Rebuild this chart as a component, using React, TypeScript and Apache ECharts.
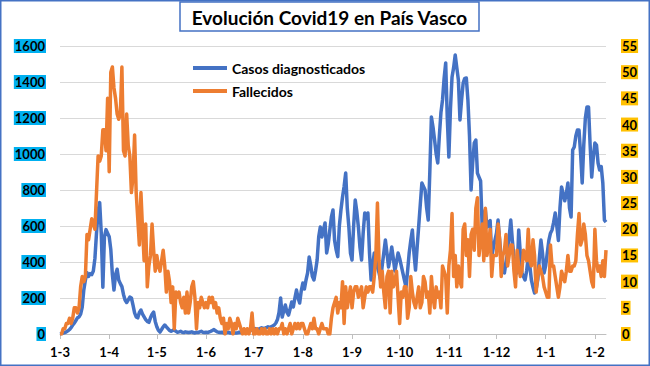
import React, { useEffect, useRef } from "react";
import * as echarts from "echarts";

// Month tick labels (day-month) and number of days shown per month
const monthTicks = ["1-3", "1-4", "1-5", "1-6", "1-7", "1-8", "1-9", "1-10", "1-11", "1-12", "1-1", "1-2"];
const monthDays = [31, 30, 31, 30, 31, 31, 30, 31, 30, 31, 31, 8];

// Casos diagnosticados (left axis), daily, per month
const casosMar = [0, 2, 5, 8, 12, 18, 25, 35, 50, 60, 75, 90, 95, 110, 150, 245, 300, 340, 320, 335, 330, 350, 420, 560, 680, 730, 560, 260, 540, 580, 560];
const casosAbr = [540, 470, 330, 244, 330, 360, 300, 280, 263, 220, 189, 175, 190, 205, 200, 160, 117, 95, 90, 120, 133, 110, 95, 80, 70, 65, 90, 110, 122, 70];
const casosMay = [40, 20, 11, 25, 40, 50, 40, 30, 20, 15, 20, 25, 15, 10, 12, 15, 10, 8, 12, 10, 8, 10, 12, 8, 6, 10, 8, 12, 15, 10, 8];
const casosJun = [10, 8, 12, 15, 20, 25, 18, 12, 10, 8, 10, 6, 5, 8, 10, 6, 5, 8, 6, 5, 7, 10, 8, 12, 15, 20, 25, 22, 20, 25];
const casosJul = [25, 30, 28, 25, 30, 35, 30, 32, 35, 40, 35, 40, 45, 50, 61, 80, 120, 200, 94, 130, 161, 120, 105, 140, 178, 150, 200, 244, 200, 172, 240];
const casosAgo = [283, 250, 300, 339, 428, 380, 320, 300, 350, 411, 540, 594, 539, 580, 617, 450, 500, 578, 650, 689, 520, 467, 430, 600, 689, 761, 820, 894, 700, 594, 450];
const casosSep = [411, 600, 744, 680, 594, 480, 411, 560, 672, 640, 672, 450, 300, 380, 450, 420, 372, 340, 300, 380, 450, 522, 450, 372, 420, 483, 420, 350, 400, 450];
const casosOct = [420, 380, 339, 300, 261, 350, 450, 520, 578, 450, 355, 480, 600, 720, 839, 820, 800, 700, 633, 900, 1206, 1150, 1078, 1000, 950, 1100, 1230, 1300, 1420, 1506, 1200];
const casosNov = [983, 1250, 1428, 1480, 1550, 1480, 1411, 1189, 1300, 1394, 1420, 1422, 1300, 1100, 800, 950, 1061, 1078, 894, 872, 850, 594, 650, 689, 594, 620, 630, 428, 480, 520];
const casosDic = [560, 633, 520, 420, 380, 339, 400, 450, 540, 633, 520, 428, 380, 339, 578, 450, 339, 320, 300, 350, 428, 380, 300, 260, 228, 250, 300, 420, 522, 450, 339];
const casosEne = [380, 450, 520, 560, 578, 620, 672, 600, 520, 700, 817, 780, 740, 780, 839, 700, 650, 1022, 1039, 1100, 1133, 1133, 1000, 839, 1050, 1200, 1261, 1261, 1050, 872, 980];
const casosFeb = [1061, 1050, 950, 911, 930, 839, 633, 622];

// Fallecidos (right axis), daily, per month
const fallMar = [0, 0, 1, 1, 2, 2, 3, 2, 3, 5, 5, 4, 5, 9, 11, 10, 11, 19, 18, 20, 22, 21, 20, 27, 34, 33, 34, 39, 39, 35, 45];
const fallAbr = [31, 50, 51, 47, 45, 42, 41, 42, 51, 35, 34, 42, 36, 34, 27, 30, 38, 27, 22, 17, 27, 20, 14, 21, 9, 13, 15, 21, 16, 12];
const fallMay = [15, 13, 12, 14, 16, 13, 8, 12, 10, 6, 9, 1, 8, 7, 8, 6, 5, 7, 4, 8, 4, 6, 9, 10, 7, 1, 6, 5, 7, 6, 5];
const fallJun = [6, 5, 7, 6, 7, 5, 6, 4, 5, 3, 2, 3, 0, 2, 1, 3, 2, 0, 2, 1, 3, 2, 1, 0, 1, 0, 1, 0, 1, 4];
const fallJul = [0, 0, 1, 0, 0, 1, 0, 1, 0, 0, 1, 0, 1, 0, 1, 0, 1, 1, 2, 0, 1, 0, 1, 2, 0, 1, 2, 1, 2, 1, 2];
const fallAgo = [2, 1, 0, 0, 1, 2, 1, 3, 1, 1, 0, 1, 2, 1, 1, 1, 0, 0, 3, 5, 6, 7, 4, 6, 5, 10, 2, 9, 5, 7, 9];
const fallSep = [5, 8, 9, 9, 7, 8, 9, 5, 7, 9, 8, 9, 9, 8, 11, 15, 25, 14, 9, 12, 8, 5, 11, 12, 4, 12, 9, 10, 12, 7];
const fallOct = [2, 8, 7, 9, 9, 3, 5, 11, 8, 6, 5, 7, 9, 5, 6, 11, 10, 7, 8, 4, 11, 7, 5, 9, 7, 8, 5, 13, 12, 11, 4];
const fallNov = [13, 16, 23, 11, 15, 9, 13, 10, 9, 20, 21, 15, 18, 11, 19, 20, 16, 24, 26, 15, 18, 21, 14, 24, 15, 17, 20, 11, 15, 15];
const fallDic = [15, 21, 18, 11, 15, 16, 19, 13, 15, 17, 17, 12, 9, 16, 13, 11, 12, 16, 15, 14, 20, 14, 13, 18, 15, 8, 11, 13, 12, 11, 9];
const fallEne = [8, 7, 7, 17, 13, 13, 11, 9, 7, 9, 12, 11, 10, 12, 15, 12, 12, 13, 13, 14, 19, 23, 17, 18, 21, 19, 15, 14, 12, 10, 9];
const fallFeb = [20, 14, 12, 13, 11, 14, 11, 16];

const casos = [
  ...casosMar, ...casosAbr, ...casosMay, ...casosJun, ...casosJul, ...casosAgo,
  ...casosSep, ...casosOct, ...casosNov, ...casosDic, ...casosEne, ...casosFeb,
];
const fallecidos = [
  ...fallMar, ...fallAbr, ...fallMay, ...fallJun, ...fallJul, ...fallAgo,
  ...fallSep, ...fallOct, ...fallNov, ...fallDic, ...fallEne, ...fallFeb,
];

const categories: string[] = [];
monthTicks.forEach((t, i) => {
  const m = t.split("-")[1];
  for (let d = 1; d <= monthDays[i]; d++) categories.push(`${d}-${m}`);
});

const FONT = "Lato";
const isMonthStart = (_i: number, v: string) => v.startsWith("1-");

export default function App() {
  const ref = useRef<HTMLDivElement>(null);
  useEffect(() => {
    document.body.style.margin = "0";
    if (!ref.current) return;
    const chart = echarts.init(ref.current, null, { renderer: "svg" });
    const axisLbl = {
      fontFamily: FONT,
      fontSize: 13,
      fontWeight: "bold" as const,
      color: "#000",
      padding: [1, 1, 0, 1],
      formatter: (v: number) => String(v),
    };
    chart.setOption({
      animation: false,
      backgroundColor: "#fff",
      textStyle: { fontFamily: FONT },
      grid: { left: 60, right: 44, top: 46, bottom: 32 },
      legend: {
        orient: "vertical",
        left: 188,
        top: 56,
        icon: "rect",
        itemWidth: 34,
        itemHeight: 4,
        itemGap: 9,
        data: ["Casos diagnosticados", "Fallecidos"],
        textStyle: { fontFamily: FONT, fontSize: 14, fontWeight: "bold", color: "#000" },
      },
      xAxis: {
        type: "category",
        data: categories,
        boundaryGap: false,
        axisLine: { lineStyle: { color: "#BFBFBF", width: 1 } },
        axisTick: { interval: isMonthStart, length: 5, lineStyle: { color: "#BFBFBF" } },
        axisLabel: {
          interval: isMonthStart,
          fontFamily: FONT,
          fontSize: 13,
          fontWeight: "bold",
          color: "#000",
          margin: 11,
        },
        splitLine: { show: false },
      },
      yAxis: [
        {
          type: "value",
          min: 0,
          max: 1600,
          interval: 200,
          position: "left",
          axisLine: { show: false },
          axisTick: { show: false },
          splitLine: { lineStyle: { color: "#D9D9D9", width: 1 } },
          axisLabel: { ...axisLbl, backgroundColor: "#00B0F0", margin: 14 },
        },
        {
          type: "value",
          min: 0,
          max: 55,
          interval: 5,
          position: "right",
          axisLine: { show: false },
          axisTick: { show: false },
          splitLine: { show: false },
          axisLabel: { ...axisLbl, backgroundColor: "#FFC000", margin: 15 },
        },
      ],
      series: [
        {
          name: "Casos diagnosticados",
          type: "line",
          yAxisIndex: 0,
          data: casos,
          symbol: "none",
          lineStyle: { width: 3.5, color: "#4472C4", join: "round" },
          itemStyle: { color: "#4472C4" },
        },
        {
          name: "Fallecidos",
          type: "line",
          yAxisIndex: 1,
          data: fallecidos,
          symbol: "none",
          lineStyle: { width: 3.5, color: "#ED7D31", join: "round" },
          itemStyle: { color: "#ED7D31" },
        },
      ],
      graphic: [
        {
          type: "rect",
          shape: { x: 0.75, y: 0.75, width: 648.5, height: 364.5 },
          style: { fill: "none", stroke: "#4472C4", lineWidth: 1.5 },
          z: 100,
        },
        {
          type: "rect",
          shape: { x: 180, y: 2, width: 299, height: 29 },
          style: { fill: "#fff", stroke: "#4472C4", lineWidth: 1.5 },
          z: 100,
        },
        {
          type: "text",
          x: 329.5,
          y: 17,
          style: {
            text: "Evolución Covid19 en País Vasco",
            fontFamily: FONT,
            fontSize: 19,
            fontWeight: "bold",
            fill: "#000",
            align: "center",
            verticalAlign: "middle",
          },
          z: 101,
        },
      ],
    });
    return () => chart.dispose();
  }, []);
  return <div ref={ref} style={{ width: 650, height: 366 }} />;
}
